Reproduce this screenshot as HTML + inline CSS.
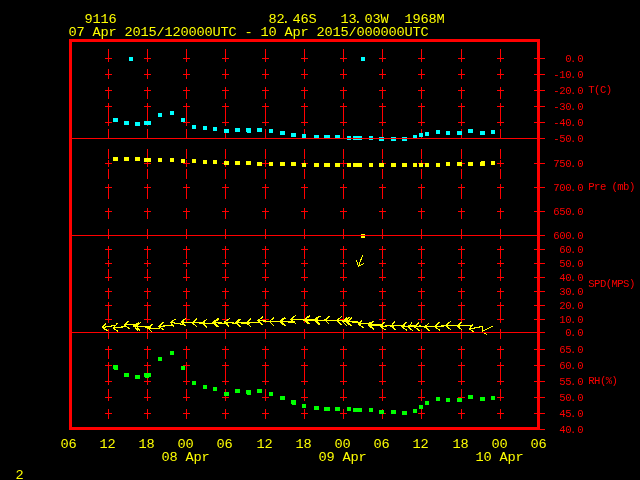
<!DOCTYPE html>
<html><head><meta charset="utf-8"><title>Meteogram 9116</title>
<style>
html,body{margin:0;padding:0;background:#000;overflow:hidden}
svg{display:block}
text{font-family:"Liberation Mono","DejaVu Sans Mono",monospace;white-space:pre}
</style></head><body>
<svg width="640" height="480" viewBox="0 0 640 480">
<rect width="640" height="480" fill="#000"/>
<g shape-rendering="crispEdges">
<rect x="108" y="49" width="1" height="10" fill="#ff0000"/><rect x="108" y="69" width="1" height="10" fill="#ff0000"/><rect x="108" y="89" width="1" height="10" fill="#ff0000"/><rect x="108" y="109" width="1" height="10" fill="#ff0000"/><rect x="108" y="129" width="1" height="10" fill="#ff0000"/><rect x="108" y="149" width="1" height="10" fill="#ff0000"/><rect x="108" y="169" width="1" height="10" fill="#ff0000"/><rect x="108" y="189" width="1" height="10" fill="#ff0000"/><rect x="108" y="209" width="1" height="10" fill="#ff0000"/><rect x="108" y="229" width="1" height="10" fill="#ff0000"/><rect x="108" y="249" width="1" height="10" fill="#ff0000"/><rect x="108" y="269" width="1" height="10" fill="#ff0000"/><rect x="108" y="289" width="1" height="10" fill="#ff0000"/><rect x="108" y="309" width="1" height="10" fill="#ff0000"/><rect x="108" y="329" width="1" height="10" fill="#ff0000"/><rect x="108" y="349" width="1" height="10" fill="#ff0000"/><rect x="108" y="369" width="1" height="10" fill="#ff0000"/><rect x="108" y="389" width="1" height="10" fill="#ff0000"/><rect x="108" y="409" width="1" height="10" fill="#ff0000"/><rect x="105" y="58" width="7" height="1" fill="#ff0000"/><rect x="108" y="55" width="1" height="7" fill="#ff0000"/><rect x="105" y="74" width="7" height="1" fill="#ff0000"/><rect x="108" y="71" width="1" height="7" fill="#ff0000"/><rect x="105" y="90" width="7" height="1" fill="#ff0000"/><rect x="108" y="87" width="1" height="7" fill="#ff0000"/><rect x="105" y="106" width="7" height="1" fill="#ff0000"/><rect x="108" y="103" width="1" height="7" fill="#ff0000"/><rect x="105" y="122" width="7" height="1" fill="#ff0000"/><rect x="108" y="119" width="1" height="7" fill="#ff0000"/><rect x="105" y="163" width="7" height="1" fill="#ff0000"/><rect x="108" y="160" width="1" height="7" fill="#ff0000"/><rect x="105" y="187" width="7" height="1" fill="#ff0000"/><rect x="108" y="184" width="1" height="7" fill="#ff0000"/><rect x="105" y="211" width="7" height="1" fill="#ff0000"/><rect x="108" y="208" width="1" height="7" fill="#ff0000"/><rect x="105" y="249" width="7" height="1" fill="#ff0000"/><rect x="108" y="246" width="1" height="7" fill="#ff0000"/><rect x="105" y="263" width="7" height="1" fill="#ff0000"/><rect x="108" y="260" width="1" height="7" fill="#ff0000"/><rect x="105" y="277" width="7" height="1" fill="#ff0000"/><rect x="108" y="274" width="1" height="7" fill="#ff0000"/><rect x="105" y="291" width="7" height="1" fill="#ff0000"/><rect x="108" y="288" width="1" height="7" fill="#ff0000"/><rect x="105" y="305" width="7" height="1" fill="#ff0000"/><rect x="108" y="302" width="1" height="7" fill="#ff0000"/><rect x="105" y="319" width="7" height="1" fill="#ff0000"/><rect x="108" y="316" width="1" height="7" fill="#ff0000"/><rect x="105" y="349" width="7" height="1" fill="#ff0000"/><rect x="108" y="346" width="1" height="7" fill="#ff0000"/><rect x="105" y="365" width="7" height="1" fill="#ff0000"/><rect x="108" y="362" width="1" height="7" fill="#ff0000"/><rect x="105" y="381" width="7" height="1" fill="#ff0000"/><rect x="108" y="378" width="1" height="7" fill="#ff0000"/><rect x="105" y="397" width="7" height="1" fill="#ff0000"/><rect x="108" y="394" width="1" height="7" fill="#ff0000"/><rect x="105" y="413" width="7" height="1" fill="#ff0000"/><rect x="108" y="410" width="1" height="7" fill="#ff0000"/><rect x="147" y="49" width="1" height="10" fill="#ff0000"/><rect x="147" y="69" width="1" height="10" fill="#ff0000"/><rect x="147" y="89" width="1" height="10" fill="#ff0000"/><rect x="147" y="109" width="1" height="10" fill="#ff0000"/><rect x="147" y="129" width="1" height="10" fill="#ff0000"/><rect x="147" y="149" width="1" height="10" fill="#ff0000"/><rect x="147" y="169" width="1" height="10" fill="#ff0000"/><rect x="147" y="189" width="1" height="10" fill="#ff0000"/><rect x="147" y="209" width="1" height="10" fill="#ff0000"/><rect x="147" y="229" width="1" height="10" fill="#ff0000"/><rect x="147" y="249" width="1" height="10" fill="#ff0000"/><rect x="147" y="269" width="1" height="10" fill="#ff0000"/><rect x="147" y="289" width="1" height="10" fill="#ff0000"/><rect x="147" y="309" width="1" height="10" fill="#ff0000"/><rect x="147" y="329" width="1" height="10" fill="#ff0000"/><rect x="147" y="349" width="1" height="10" fill="#ff0000"/><rect x="147" y="369" width="1" height="10" fill="#ff0000"/><rect x="147" y="389" width="1" height="10" fill="#ff0000"/><rect x="147" y="409" width="1" height="10" fill="#ff0000"/><rect x="144" y="58" width="7" height="1" fill="#ff0000"/><rect x="147" y="55" width="1" height="7" fill="#ff0000"/><rect x="144" y="74" width="7" height="1" fill="#ff0000"/><rect x="147" y="71" width="1" height="7" fill="#ff0000"/><rect x="144" y="90" width="7" height="1" fill="#ff0000"/><rect x="147" y="87" width="1" height="7" fill="#ff0000"/><rect x="144" y="106" width="7" height="1" fill="#ff0000"/><rect x="147" y="103" width="1" height="7" fill="#ff0000"/><rect x="144" y="122" width="7" height="1" fill="#ff0000"/><rect x="147" y="119" width="1" height="7" fill="#ff0000"/><rect x="144" y="163" width="7" height="1" fill="#ff0000"/><rect x="147" y="160" width="1" height="7" fill="#ff0000"/><rect x="144" y="187" width="7" height="1" fill="#ff0000"/><rect x="147" y="184" width="1" height="7" fill="#ff0000"/><rect x="144" y="211" width="7" height="1" fill="#ff0000"/><rect x="147" y="208" width="1" height="7" fill="#ff0000"/><rect x="144" y="249" width="7" height="1" fill="#ff0000"/><rect x="147" y="246" width="1" height="7" fill="#ff0000"/><rect x="144" y="263" width="7" height="1" fill="#ff0000"/><rect x="147" y="260" width="1" height="7" fill="#ff0000"/><rect x="144" y="277" width="7" height="1" fill="#ff0000"/><rect x="147" y="274" width="1" height="7" fill="#ff0000"/><rect x="144" y="291" width="7" height="1" fill="#ff0000"/><rect x="147" y="288" width="1" height="7" fill="#ff0000"/><rect x="144" y="305" width="7" height="1" fill="#ff0000"/><rect x="147" y="302" width="1" height="7" fill="#ff0000"/><rect x="144" y="319" width="7" height="1" fill="#ff0000"/><rect x="147" y="316" width="1" height="7" fill="#ff0000"/><rect x="144" y="349" width="7" height="1" fill="#ff0000"/><rect x="147" y="346" width="1" height="7" fill="#ff0000"/><rect x="144" y="365" width="7" height="1" fill="#ff0000"/><rect x="147" y="362" width="1" height="7" fill="#ff0000"/><rect x="144" y="381" width="7" height="1" fill="#ff0000"/><rect x="147" y="378" width="1" height="7" fill="#ff0000"/><rect x="144" y="397" width="7" height="1" fill="#ff0000"/><rect x="147" y="394" width="1" height="7" fill="#ff0000"/><rect x="144" y="413" width="7" height="1" fill="#ff0000"/><rect x="147" y="410" width="1" height="7" fill="#ff0000"/><rect x="186" y="49" width="1" height="10" fill="#ff0000"/><rect x="186" y="69" width="1" height="10" fill="#ff0000"/><rect x="186" y="89" width="1" height="10" fill="#ff0000"/><rect x="186" y="109" width="1" height="10" fill="#ff0000"/><rect x="186" y="129" width="1" height="10" fill="#ff0000"/><rect x="186" y="149" width="1" height="10" fill="#ff0000"/><rect x="186" y="169" width="1" height="10" fill="#ff0000"/><rect x="186" y="189" width="1" height="10" fill="#ff0000"/><rect x="186" y="209" width="1" height="10" fill="#ff0000"/><rect x="186" y="229" width="1" height="10" fill="#ff0000"/><rect x="186" y="249" width="1" height="10" fill="#ff0000"/><rect x="186" y="269" width="1" height="10" fill="#ff0000"/><rect x="186" y="289" width="1" height="10" fill="#ff0000"/><rect x="186" y="309" width="1" height="10" fill="#ff0000"/><rect x="186" y="329" width="1" height="10" fill="#ff0000"/><rect x="186" y="349" width="1" height="10" fill="#ff0000"/><rect x="186" y="369" width="1" height="10" fill="#ff0000"/><rect x="186" y="389" width="1" height="10" fill="#ff0000"/><rect x="186" y="409" width="1" height="10" fill="#ff0000"/><rect x="183" y="58" width="7" height="1" fill="#ff0000"/><rect x="186" y="55" width="1" height="7" fill="#ff0000"/><rect x="183" y="74" width="7" height="1" fill="#ff0000"/><rect x="186" y="71" width="1" height="7" fill="#ff0000"/><rect x="183" y="90" width="7" height="1" fill="#ff0000"/><rect x="186" y="87" width="1" height="7" fill="#ff0000"/><rect x="183" y="106" width="7" height="1" fill="#ff0000"/><rect x="186" y="103" width="1" height="7" fill="#ff0000"/><rect x="183" y="122" width="7" height="1" fill="#ff0000"/><rect x="186" y="119" width="1" height="7" fill="#ff0000"/><rect x="183" y="163" width="7" height="1" fill="#ff0000"/><rect x="186" y="160" width="1" height="7" fill="#ff0000"/><rect x="183" y="187" width="7" height="1" fill="#ff0000"/><rect x="186" y="184" width="1" height="7" fill="#ff0000"/><rect x="183" y="211" width="7" height="1" fill="#ff0000"/><rect x="186" y="208" width="1" height="7" fill="#ff0000"/><rect x="183" y="249" width="7" height="1" fill="#ff0000"/><rect x="186" y="246" width="1" height="7" fill="#ff0000"/><rect x="183" y="263" width="7" height="1" fill="#ff0000"/><rect x="186" y="260" width="1" height="7" fill="#ff0000"/><rect x="183" y="277" width="7" height="1" fill="#ff0000"/><rect x="186" y="274" width="1" height="7" fill="#ff0000"/><rect x="183" y="291" width="7" height="1" fill="#ff0000"/><rect x="186" y="288" width="1" height="7" fill="#ff0000"/><rect x="183" y="305" width="7" height="1" fill="#ff0000"/><rect x="186" y="302" width="1" height="7" fill="#ff0000"/><rect x="183" y="319" width="7" height="1" fill="#ff0000"/><rect x="186" y="316" width="1" height="7" fill="#ff0000"/><rect x="183" y="349" width="7" height="1" fill="#ff0000"/><rect x="186" y="346" width="1" height="7" fill="#ff0000"/><rect x="183" y="365" width="7" height="1" fill="#ff0000"/><rect x="186" y="362" width="1" height="7" fill="#ff0000"/><rect x="183" y="381" width="7" height="1" fill="#ff0000"/><rect x="186" y="378" width="1" height="7" fill="#ff0000"/><rect x="183" y="397" width="7" height="1" fill="#ff0000"/><rect x="186" y="394" width="1" height="7" fill="#ff0000"/><rect x="183" y="413" width="7" height="1" fill="#ff0000"/><rect x="186" y="410" width="1" height="7" fill="#ff0000"/><rect x="225" y="49" width="1" height="10" fill="#ff0000"/><rect x="225" y="69" width="1" height="10" fill="#ff0000"/><rect x="225" y="89" width="1" height="10" fill="#ff0000"/><rect x="225" y="109" width="1" height="10" fill="#ff0000"/><rect x="225" y="129" width="1" height="10" fill="#ff0000"/><rect x="225" y="149" width="1" height="10" fill="#ff0000"/><rect x="225" y="169" width="1" height="10" fill="#ff0000"/><rect x="225" y="189" width="1" height="10" fill="#ff0000"/><rect x="225" y="209" width="1" height="10" fill="#ff0000"/><rect x="225" y="229" width="1" height="10" fill="#ff0000"/><rect x="225" y="249" width="1" height="10" fill="#ff0000"/><rect x="225" y="269" width="1" height="10" fill="#ff0000"/><rect x="225" y="289" width="1" height="10" fill="#ff0000"/><rect x="225" y="309" width="1" height="10" fill="#ff0000"/><rect x="225" y="329" width="1" height="10" fill="#ff0000"/><rect x="225" y="349" width="1" height="10" fill="#ff0000"/><rect x="225" y="369" width="1" height="10" fill="#ff0000"/><rect x="225" y="389" width="1" height="10" fill="#ff0000"/><rect x="225" y="409" width="1" height="10" fill="#ff0000"/><rect x="222" y="58" width="7" height="1" fill="#ff0000"/><rect x="225" y="55" width="1" height="7" fill="#ff0000"/><rect x="222" y="74" width="7" height="1" fill="#ff0000"/><rect x="225" y="71" width="1" height="7" fill="#ff0000"/><rect x="222" y="90" width="7" height="1" fill="#ff0000"/><rect x="225" y="87" width="1" height="7" fill="#ff0000"/><rect x="222" y="106" width="7" height="1" fill="#ff0000"/><rect x="225" y="103" width="1" height="7" fill="#ff0000"/><rect x="222" y="122" width="7" height="1" fill="#ff0000"/><rect x="225" y="119" width="1" height="7" fill="#ff0000"/><rect x="222" y="163" width="7" height="1" fill="#ff0000"/><rect x="225" y="160" width="1" height="7" fill="#ff0000"/><rect x="222" y="187" width="7" height="1" fill="#ff0000"/><rect x="225" y="184" width="1" height="7" fill="#ff0000"/><rect x="222" y="211" width="7" height="1" fill="#ff0000"/><rect x="225" y="208" width="1" height="7" fill="#ff0000"/><rect x="222" y="249" width="7" height="1" fill="#ff0000"/><rect x="225" y="246" width="1" height="7" fill="#ff0000"/><rect x="222" y="263" width="7" height="1" fill="#ff0000"/><rect x="225" y="260" width="1" height="7" fill="#ff0000"/><rect x="222" y="277" width="7" height="1" fill="#ff0000"/><rect x="225" y="274" width="1" height="7" fill="#ff0000"/><rect x="222" y="291" width="7" height="1" fill="#ff0000"/><rect x="225" y="288" width="1" height="7" fill="#ff0000"/><rect x="222" y="305" width="7" height="1" fill="#ff0000"/><rect x="225" y="302" width="1" height="7" fill="#ff0000"/><rect x="222" y="319" width="7" height="1" fill="#ff0000"/><rect x="225" y="316" width="1" height="7" fill="#ff0000"/><rect x="222" y="349" width="7" height="1" fill="#ff0000"/><rect x="225" y="346" width="1" height="7" fill="#ff0000"/><rect x="222" y="365" width="7" height="1" fill="#ff0000"/><rect x="225" y="362" width="1" height="7" fill="#ff0000"/><rect x="222" y="381" width="7" height="1" fill="#ff0000"/><rect x="225" y="378" width="1" height="7" fill="#ff0000"/><rect x="222" y="397" width="7" height="1" fill="#ff0000"/><rect x="225" y="394" width="1" height="7" fill="#ff0000"/><rect x="222" y="413" width="7" height="1" fill="#ff0000"/><rect x="225" y="410" width="1" height="7" fill="#ff0000"/><rect x="265" y="49" width="1" height="10" fill="#ff0000"/><rect x="265" y="69" width="1" height="10" fill="#ff0000"/><rect x="265" y="89" width="1" height="10" fill="#ff0000"/><rect x="265" y="109" width="1" height="10" fill="#ff0000"/><rect x="265" y="129" width="1" height="10" fill="#ff0000"/><rect x="265" y="149" width="1" height="10" fill="#ff0000"/><rect x="265" y="169" width="1" height="10" fill="#ff0000"/><rect x="265" y="189" width="1" height="10" fill="#ff0000"/><rect x="265" y="209" width="1" height="10" fill="#ff0000"/><rect x="265" y="229" width="1" height="10" fill="#ff0000"/><rect x="265" y="249" width="1" height="10" fill="#ff0000"/><rect x="265" y="269" width="1" height="10" fill="#ff0000"/><rect x="265" y="289" width="1" height="10" fill="#ff0000"/><rect x="265" y="309" width="1" height="10" fill="#ff0000"/><rect x="265" y="329" width="1" height="10" fill="#ff0000"/><rect x="265" y="349" width="1" height="10" fill="#ff0000"/><rect x="265" y="369" width="1" height="10" fill="#ff0000"/><rect x="265" y="389" width="1" height="10" fill="#ff0000"/><rect x="265" y="409" width="1" height="10" fill="#ff0000"/><rect x="262" y="58" width="7" height="1" fill="#ff0000"/><rect x="265" y="55" width="1" height="7" fill="#ff0000"/><rect x="262" y="74" width="7" height="1" fill="#ff0000"/><rect x="265" y="71" width="1" height="7" fill="#ff0000"/><rect x="262" y="90" width="7" height="1" fill="#ff0000"/><rect x="265" y="87" width="1" height="7" fill="#ff0000"/><rect x="262" y="106" width="7" height="1" fill="#ff0000"/><rect x="265" y="103" width="1" height="7" fill="#ff0000"/><rect x="262" y="122" width="7" height="1" fill="#ff0000"/><rect x="265" y="119" width="1" height="7" fill="#ff0000"/><rect x="262" y="163" width="7" height="1" fill="#ff0000"/><rect x="265" y="160" width="1" height="7" fill="#ff0000"/><rect x="262" y="187" width="7" height="1" fill="#ff0000"/><rect x="265" y="184" width="1" height="7" fill="#ff0000"/><rect x="262" y="211" width="7" height="1" fill="#ff0000"/><rect x="265" y="208" width="1" height="7" fill="#ff0000"/><rect x="262" y="249" width="7" height="1" fill="#ff0000"/><rect x="265" y="246" width="1" height="7" fill="#ff0000"/><rect x="262" y="263" width="7" height="1" fill="#ff0000"/><rect x="265" y="260" width="1" height="7" fill="#ff0000"/><rect x="262" y="277" width="7" height="1" fill="#ff0000"/><rect x="265" y="274" width="1" height="7" fill="#ff0000"/><rect x="262" y="291" width="7" height="1" fill="#ff0000"/><rect x="265" y="288" width="1" height="7" fill="#ff0000"/><rect x="262" y="305" width="7" height="1" fill="#ff0000"/><rect x="265" y="302" width="1" height="7" fill="#ff0000"/><rect x="262" y="319" width="7" height="1" fill="#ff0000"/><rect x="265" y="316" width="1" height="7" fill="#ff0000"/><rect x="262" y="349" width="7" height="1" fill="#ff0000"/><rect x="265" y="346" width="1" height="7" fill="#ff0000"/><rect x="262" y="365" width="7" height="1" fill="#ff0000"/><rect x="265" y="362" width="1" height="7" fill="#ff0000"/><rect x="262" y="381" width="7" height="1" fill="#ff0000"/><rect x="265" y="378" width="1" height="7" fill="#ff0000"/><rect x="262" y="397" width="7" height="1" fill="#ff0000"/><rect x="265" y="394" width="1" height="7" fill="#ff0000"/><rect x="262" y="413" width="7" height="1" fill="#ff0000"/><rect x="265" y="410" width="1" height="7" fill="#ff0000"/><rect x="304" y="49" width="1" height="10" fill="#ff0000"/><rect x="304" y="69" width="1" height="10" fill="#ff0000"/><rect x="304" y="89" width="1" height="10" fill="#ff0000"/><rect x="304" y="109" width="1" height="10" fill="#ff0000"/><rect x="304" y="129" width="1" height="10" fill="#ff0000"/><rect x="304" y="149" width="1" height="10" fill="#ff0000"/><rect x="304" y="169" width="1" height="10" fill="#ff0000"/><rect x="304" y="189" width="1" height="10" fill="#ff0000"/><rect x="304" y="209" width="1" height="10" fill="#ff0000"/><rect x="304" y="229" width="1" height="10" fill="#ff0000"/><rect x="304" y="249" width="1" height="10" fill="#ff0000"/><rect x="304" y="269" width="1" height="10" fill="#ff0000"/><rect x="304" y="289" width="1" height="10" fill="#ff0000"/><rect x="304" y="309" width="1" height="10" fill="#ff0000"/><rect x="304" y="329" width="1" height="10" fill="#ff0000"/><rect x="304" y="349" width="1" height="10" fill="#ff0000"/><rect x="304" y="369" width="1" height="10" fill="#ff0000"/><rect x="304" y="389" width="1" height="10" fill="#ff0000"/><rect x="304" y="409" width="1" height="10" fill="#ff0000"/><rect x="301" y="58" width="7" height="1" fill="#ff0000"/><rect x="304" y="55" width="1" height="7" fill="#ff0000"/><rect x="301" y="74" width="7" height="1" fill="#ff0000"/><rect x="304" y="71" width="1" height="7" fill="#ff0000"/><rect x="301" y="90" width="7" height="1" fill="#ff0000"/><rect x="304" y="87" width="1" height="7" fill="#ff0000"/><rect x="301" y="106" width="7" height="1" fill="#ff0000"/><rect x="304" y="103" width="1" height="7" fill="#ff0000"/><rect x="301" y="122" width="7" height="1" fill="#ff0000"/><rect x="304" y="119" width="1" height="7" fill="#ff0000"/><rect x="301" y="163" width="7" height="1" fill="#ff0000"/><rect x="304" y="160" width="1" height="7" fill="#ff0000"/><rect x="301" y="187" width="7" height="1" fill="#ff0000"/><rect x="304" y="184" width="1" height="7" fill="#ff0000"/><rect x="301" y="211" width="7" height="1" fill="#ff0000"/><rect x="304" y="208" width="1" height="7" fill="#ff0000"/><rect x="301" y="249" width="7" height="1" fill="#ff0000"/><rect x="304" y="246" width="1" height="7" fill="#ff0000"/><rect x="301" y="263" width="7" height="1" fill="#ff0000"/><rect x="304" y="260" width="1" height="7" fill="#ff0000"/><rect x="301" y="277" width="7" height="1" fill="#ff0000"/><rect x="304" y="274" width="1" height="7" fill="#ff0000"/><rect x="301" y="291" width="7" height="1" fill="#ff0000"/><rect x="304" y="288" width="1" height="7" fill="#ff0000"/><rect x="301" y="305" width="7" height="1" fill="#ff0000"/><rect x="304" y="302" width="1" height="7" fill="#ff0000"/><rect x="301" y="319" width="7" height="1" fill="#ff0000"/><rect x="304" y="316" width="1" height="7" fill="#ff0000"/><rect x="301" y="349" width="7" height="1" fill="#ff0000"/><rect x="304" y="346" width="1" height="7" fill="#ff0000"/><rect x="301" y="365" width="7" height="1" fill="#ff0000"/><rect x="304" y="362" width="1" height="7" fill="#ff0000"/><rect x="301" y="381" width="7" height="1" fill="#ff0000"/><rect x="304" y="378" width="1" height="7" fill="#ff0000"/><rect x="301" y="397" width="7" height="1" fill="#ff0000"/><rect x="304" y="394" width="1" height="7" fill="#ff0000"/><rect x="301" y="413" width="7" height="1" fill="#ff0000"/><rect x="304" y="410" width="1" height="7" fill="#ff0000"/><rect x="343" y="49" width="1" height="10" fill="#ff0000"/><rect x="343" y="69" width="1" height="10" fill="#ff0000"/><rect x="343" y="89" width="1" height="10" fill="#ff0000"/><rect x="343" y="109" width="1" height="10" fill="#ff0000"/><rect x="343" y="129" width="1" height="10" fill="#ff0000"/><rect x="343" y="149" width="1" height="10" fill="#ff0000"/><rect x="343" y="169" width="1" height="10" fill="#ff0000"/><rect x="343" y="189" width="1" height="10" fill="#ff0000"/><rect x="343" y="209" width="1" height="10" fill="#ff0000"/><rect x="343" y="229" width="1" height="10" fill="#ff0000"/><rect x="343" y="249" width="1" height="10" fill="#ff0000"/><rect x="343" y="269" width="1" height="10" fill="#ff0000"/><rect x="343" y="289" width="1" height="10" fill="#ff0000"/><rect x="343" y="309" width="1" height="10" fill="#ff0000"/><rect x="343" y="329" width="1" height="10" fill="#ff0000"/><rect x="343" y="349" width="1" height="10" fill="#ff0000"/><rect x="343" y="369" width="1" height="10" fill="#ff0000"/><rect x="343" y="389" width="1" height="10" fill="#ff0000"/><rect x="343" y="409" width="1" height="10" fill="#ff0000"/><rect x="340" y="58" width="7" height="1" fill="#ff0000"/><rect x="343" y="55" width="1" height="7" fill="#ff0000"/><rect x="340" y="74" width="7" height="1" fill="#ff0000"/><rect x="343" y="71" width="1" height="7" fill="#ff0000"/><rect x="340" y="90" width="7" height="1" fill="#ff0000"/><rect x="343" y="87" width="1" height="7" fill="#ff0000"/><rect x="340" y="106" width="7" height="1" fill="#ff0000"/><rect x="343" y="103" width="1" height="7" fill="#ff0000"/><rect x="340" y="122" width="7" height="1" fill="#ff0000"/><rect x="343" y="119" width="1" height="7" fill="#ff0000"/><rect x="340" y="163" width="7" height="1" fill="#ff0000"/><rect x="343" y="160" width="1" height="7" fill="#ff0000"/><rect x="340" y="187" width="7" height="1" fill="#ff0000"/><rect x="343" y="184" width="1" height="7" fill="#ff0000"/><rect x="340" y="211" width="7" height="1" fill="#ff0000"/><rect x="343" y="208" width="1" height="7" fill="#ff0000"/><rect x="340" y="249" width="7" height="1" fill="#ff0000"/><rect x="343" y="246" width="1" height="7" fill="#ff0000"/><rect x="340" y="263" width="7" height="1" fill="#ff0000"/><rect x="343" y="260" width="1" height="7" fill="#ff0000"/><rect x="340" y="277" width="7" height="1" fill="#ff0000"/><rect x="343" y="274" width="1" height="7" fill="#ff0000"/><rect x="340" y="291" width="7" height="1" fill="#ff0000"/><rect x="343" y="288" width="1" height="7" fill="#ff0000"/><rect x="340" y="305" width="7" height="1" fill="#ff0000"/><rect x="343" y="302" width="1" height="7" fill="#ff0000"/><rect x="340" y="319" width="7" height="1" fill="#ff0000"/><rect x="343" y="316" width="1" height="7" fill="#ff0000"/><rect x="340" y="349" width="7" height="1" fill="#ff0000"/><rect x="343" y="346" width="1" height="7" fill="#ff0000"/><rect x="340" y="365" width="7" height="1" fill="#ff0000"/><rect x="343" y="362" width="1" height="7" fill="#ff0000"/><rect x="340" y="381" width="7" height="1" fill="#ff0000"/><rect x="343" y="378" width="1" height="7" fill="#ff0000"/><rect x="340" y="397" width="7" height="1" fill="#ff0000"/><rect x="343" y="394" width="1" height="7" fill="#ff0000"/><rect x="340" y="413" width="7" height="1" fill="#ff0000"/><rect x="343" y="410" width="1" height="7" fill="#ff0000"/><rect x="382" y="49" width="1" height="10" fill="#ff0000"/><rect x="382" y="69" width="1" height="10" fill="#ff0000"/><rect x="382" y="89" width="1" height="10" fill="#ff0000"/><rect x="382" y="109" width="1" height="10" fill="#ff0000"/><rect x="382" y="129" width="1" height="10" fill="#ff0000"/><rect x="382" y="149" width="1" height="10" fill="#ff0000"/><rect x="382" y="169" width="1" height="10" fill="#ff0000"/><rect x="382" y="189" width="1" height="10" fill="#ff0000"/><rect x="382" y="209" width="1" height="10" fill="#ff0000"/><rect x="382" y="229" width="1" height="10" fill="#ff0000"/><rect x="382" y="249" width="1" height="10" fill="#ff0000"/><rect x="382" y="269" width="1" height="10" fill="#ff0000"/><rect x="382" y="289" width="1" height="10" fill="#ff0000"/><rect x="382" y="309" width="1" height="10" fill="#ff0000"/><rect x="382" y="329" width="1" height="10" fill="#ff0000"/><rect x="382" y="349" width="1" height="10" fill="#ff0000"/><rect x="382" y="369" width="1" height="10" fill="#ff0000"/><rect x="382" y="389" width="1" height="10" fill="#ff0000"/><rect x="382" y="409" width="1" height="10" fill="#ff0000"/><rect x="379" y="58" width="7" height="1" fill="#ff0000"/><rect x="382" y="55" width="1" height="7" fill="#ff0000"/><rect x="379" y="74" width="7" height="1" fill="#ff0000"/><rect x="382" y="71" width="1" height="7" fill="#ff0000"/><rect x="379" y="90" width="7" height="1" fill="#ff0000"/><rect x="382" y="87" width="1" height="7" fill="#ff0000"/><rect x="379" y="106" width="7" height="1" fill="#ff0000"/><rect x="382" y="103" width="1" height="7" fill="#ff0000"/><rect x="379" y="122" width="7" height="1" fill="#ff0000"/><rect x="382" y="119" width="1" height="7" fill="#ff0000"/><rect x="379" y="163" width="7" height="1" fill="#ff0000"/><rect x="382" y="160" width="1" height="7" fill="#ff0000"/><rect x="379" y="187" width="7" height="1" fill="#ff0000"/><rect x="382" y="184" width="1" height="7" fill="#ff0000"/><rect x="379" y="211" width="7" height="1" fill="#ff0000"/><rect x="382" y="208" width="1" height="7" fill="#ff0000"/><rect x="379" y="249" width="7" height="1" fill="#ff0000"/><rect x="382" y="246" width="1" height="7" fill="#ff0000"/><rect x="379" y="263" width="7" height="1" fill="#ff0000"/><rect x="382" y="260" width="1" height="7" fill="#ff0000"/><rect x="379" y="277" width="7" height="1" fill="#ff0000"/><rect x="382" y="274" width="1" height="7" fill="#ff0000"/><rect x="379" y="291" width="7" height="1" fill="#ff0000"/><rect x="382" y="288" width="1" height="7" fill="#ff0000"/><rect x="379" y="305" width="7" height="1" fill="#ff0000"/><rect x="382" y="302" width="1" height="7" fill="#ff0000"/><rect x="379" y="319" width="7" height="1" fill="#ff0000"/><rect x="382" y="316" width="1" height="7" fill="#ff0000"/><rect x="379" y="349" width="7" height="1" fill="#ff0000"/><rect x="382" y="346" width="1" height="7" fill="#ff0000"/><rect x="379" y="365" width="7" height="1" fill="#ff0000"/><rect x="382" y="362" width="1" height="7" fill="#ff0000"/><rect x="379" y="381" width="7" height="1" fill="#ff0000"/><rect x="382" y="378" width="1" height="7" fill="#ff0000"/><rect x="379" y="397" width="7" height="1" fill="#ff0000"/><rect x="382" y="394" width="1" height="7" fill="#ff0000"/><rect x="379" y="413" width="7" height="1" fill="#ff0000"/><rect x="382" y="410" width="1" height="7" fill="#ff0000"/><rect x="421" y="49" width="1" height="10" fill="#ff0000"/><rect x="421" y="69" width="1" height="10" fill="#ff0000"/><rect x="421" y="89" width="1" height="10" fill="#ff0000"/><rect x="421" y="109" width="1" height="10" fill="#ff0000"/><rect x="421" y="129" width="1" height="10" fill="#ff0000"/><rect x="421" y="149" width="1" height="10" fill="#ff0000"/><rect x="421" y="169" width="1" height="10" fill="#ff0000"/><rect x="421" y="189" width="1" height="10" fill="#ff0000"/><rect x="421" y="209" width="1" height="10" fill="#ff0000"/><rect x="421" y="229" width="1" height="10" fill="#ff0000"/><rect x="421" y="249" width="1" height="10" fill="#ff0000"/><rect x="421" y="269" width="1" height="10" fill="#ff0000"/><rect x="421" y="289" width="1" height="10" fill="#ff0000"/><rect x="421" y="309" width="1" height="10" fill="#ff0000"/><rect x="421" y="329" width="1" height="10" fill="#ff0000"/><rect x="421" y="349" width="1" height="10" fill="#ff0000"/><rect x="421" y="369" width="1" height="10" fill="#ff0000"/><rect x="421" y="389" width="1" height="10" fill="#ff0000"/><rect x="421" y="409" width="1" height="10" fill="#ff0000"/><rect x="418" y="58" width="7" height="1" fill="#ff0000"/><rect x="421" y="55" width="1" height="7" fill="#ff0000"/><rect x="418" y="74" width="7" height="1" fill="#ff0000"/><rect x="421" y="71" width="1" height="7" fill="#ff0000"/><rect x="418" y="90" width="7" height="1" fill="#ff0000"/><rect x="421" y="87" width="1" height="7" fill="#ff0000"/><rect x="418" y="106" width="7" height="1" fill="#ff0000"/><rect x="421" y="103" width="1" height="7" fill="#ff0000"/><rect x="418" y="122" width="7" height="1" fill="#ff0000"/><rect x="421" y="119" width="1" height="7" fill="#ff0000"/><rect x="418" y="163" width="7" height="1" fill="#ff0000"/><rect x="421" y="160" width="1" height="7" fill="#ff0000"/><rect x="418" y="187" width="7" height="1" fill="#ff0000"/><rect x="421" y="184" width="1" height="7" fill="#ff0000"/><rect x="418" y="211" width="7" height="1" fill="#ff0000"/><rect x="421" y="208" width="1" height="7" fill="#ff0000"/><rect x="418" y="249" width="7" height="1" fill="#ff0000"/><rect x="421" y="246" width="1" height="7" fill="#ff0000"/><rect x="418" y="263" width="7" height="1" fill="#ff0000"/><rect x="421" y="260" width="1" height="7" fill="#ff0000"/><rect x="418" y="277" width="7" height="1" fill="#ff0000"/><rect x="421" y="274" width="1" height="7" fill="#ff0000"/><rect x="418" y="291" width="7" height="1" fill="#ff0000"/><rect x="421" y="288" width="1" height="7" fill="#ff0000"/><rect x="418" y="305" width="7" height="1" fill="#ff0000"/><rect x="421" y="302" width="1" height="7" fill="#ff0000"/><rect x="418" y="319" width="7" height="1" fill="#ff0000"/><rect x="421" y="316" width="1" height="7" fill="#ff0000"/><rect x="418" y="349" width="7" height="1" fill="#ff0000"/><rect x="421" y="346" width="1" height="7" fill="#ff0000"/><rect x="418" y="365" width="7" height="1" fill="#ff0000"/><rect x="421" y="362" width="1" height="7" fill="#ff0000"/><rect x="418" y="381" width="7" height="1" fill="#ff0000"/><rect x="421" y="378" width="1" height="7" fill="#ff0000"/><rect x="418" y="397" width="7" height="1" fill="#ff0000"/><rect x="421" y="394" width="1" height="7" fill="#ff0000"/><rect x="418" y="413" width="7" height="1" fill="#ff0000"/><rect x="421" y="410" width="1" height="7" fill="#ff0000"/><rect x="461" y="49" width="1" height="10" fill="#ff0000"/><rect x="461" y="69" width="1" height="10" fill="#ff0000"/><rect x="461" y="89" width="1" height="10" fill="#ff0000"/><rect x="461" y="109" width="1" height="10" fill="#ff0000"/><rect x="461" y="129" width="1" height="10" fill="#ff0000"/><rect x="461" y="149" width="1" height="10" fill="#ff0000"/><rect x="461" y="169" width="1" height="10" fill="#ff0000"/><rect x="461" y="189" width="1" height="10" fill="#ff0000"/><rect x="461" y="209" width="1" height="10" fill="#ff0000"/><rect x="461" y="229" width="1" height="10" fill="#ff0000"/><rect x="461" y="249" width="1" height="10" fill="#ff0000"/><rect x="461" y="269" width="1" height="10" fill="#ff0000"/><rect x="461" y="289" width="1" height="10" fill="#ff0000"/><rect x="461" y="309" width="1" height="10" fill="#ff0000"/><rect x="461" y="329" width="1" height="10" fill="#ff0000"/><rect x="461" y="349" width="1" height="10" fill="#ff0000"/><rect x="461" y="369" width="1" height="10" fill="#ff0000"/><rect x="461" y="389" width="1" height="10" fill="#ff0000"/><rect x="461" y="409" width="1" height="10" fill="#ff0000"/><rect x="458" y="58" width="7" height="1" fill="#ff0000"/><rect x="461" y="55" width="1" height="7" fill="#ff0000"/><rect x="458" y="74" width="7" height="1" fill="#ff0000"/><rect x="461" y="71" width="1" height="7" fill="#ff0000"/><rect x="458" y="90" width="7" height="1" fill="#ff0000"/><rect x="461" y="87" width="1" height="7" fill="#ff0000"/><rect x="458" y="106" width="7" height="1" fill="#ff0000"/><rect x="461" y="103" width="1" height="7" fill="#ff0000"/><rect x="458" y="122" width="7" height="1" fill="#ff0000"/><rect x="461" y="119" width="1" height="7" fill="#ff0000"/><rect x="458" y="163" width="7" height="1" fill="#ff0000"/><rect x="461" y="160" width="1" height="7" fill="#ff0000"/><rect x="458" y="187" width="7" height="1" fill="#ff0000"/><rect x="461" y="184" width="1" height="7" fill="#ff0000"/><rect x="458" y="211" width="7" height="1" fill="#ff0000"/><rect x="461" y="208" width="1" height="7" fill="#ff0000"/><rect x="458" y="249" width="7" height="1" fill="#ff0000"/><rect x="461" y="246" width="1" height="7" fill="#ff0000"/><rect x="458" y="263" width="7" height="1" fill="#ff0000"/><rect x="461" y="260" width="1" height="7" fill="#ff0000"/><rect x="458" y="277" width="7" height="1" fill="#ff0000"/><rect x="461" y="274" width="1" height="7" fill="#ff0000"/><rect x="458" y="291" width="7" height="1" fill="#ff0000"/><rect x="461" y="288" width="1" height="7" fill="#ff0000"/><rect x="458" y="305" width="7" height="1" fill="#ff0000"/><rect x="461" y="302" width="1" height="7" fill="#ff0000"/><rect x="458" y="319" width="7" height="1" fill="#ff0000"/><rect x="461" y="316" width="1" height="7" fill="#ff0000"/><rect x="458" y="349" width="7" height="1" fill="#ff0000"/><rect x="461" y="346" width="1" height="7" fill="#ff0000"/><rect x="458" y="365" width="7" height="1" fill="#ff0000"/><rect x="461" y="362" width="1" height="7" fill="#ff0000"/><rect x="458" y="381" width="7" height="1" fill="#ff0000"/><rect x="461" y="378" width="1" height="7" fill="#ff0000"/><rect x="458" y="397" width="7" height="1" fill="#ff0000"/><rect x="461" y="394" width="1" height="7" fill="#ff0000"/><rect x="458" y="413" width="7" height="1" fill="#ff0000"/><rect x="461" y="410" width="1" height="7" fill="#ff0000"/><rect x="500" y="49" width="1" height="10" fill="#ff0000"/><rect x="500" y="69" width="1" height="10" fill="#ff0000"/><rect x="500" y="89" width="1" height="10" fill="#ff0000"/><rect x="500" y="109" width="1" height="10" fill="#ff0000"/><rect x="500" y="129" width="1" height="10" fill="#ff0000"/><rect x="500" y="149" width="1" height="10" fill="#ff0000"/><rect x="500" y="169" width="1" height="10" fill="#ff0000"/><rect x="500" y="189" width="1" height="10" fill="#ff0000"/><rect x="500" y="209" width="1" height="10" fill="#ff0000"/><rect x="500" y="229" width="1" height="10" fill="#ff0000"/><rect x="500" y="249" width="1" height="10" fill="#ff0000"/><rect x="500" y="269" width="1" height="10" fill="#ff0000"/><rect x="500" y="289" width="1" height="10" fill="#ff0000"/><rect x="500" y="309" width="1" height="10" fill="#ff0000"/><rect x="500" y="329" width="1" height="10" fill="#ff0000"/><rect x="500" y="349" width="1" height="10" fill="#ff0000"/><rect x="500" y="369" width="1" height="10" fill="#ff0000"/><rect x="500" y="389" width="1" height="10" fill="#ff0000"/><rect x="500" y="409" width="1" height="10" fill="#ff0000"/><rect x="497" y="58" width="7" height="1" fill="#ff0000"/><rect x="500" y="55" width="1" height="7" fill="#ff0000"/><rect x="497" y="74" width="7" height="1" fill="#ff0000"/><rect x="500" y="71" width="1" height="7" fill="#ff0000"/><rect x="497" y="90" width="7" height="1" fill="#ff0000"/><rect x="500" y="87" width="1" height="7" fill="#ff0000"/><rect x="497" y="106" width="7" height="1" fill="#ff0000"/><rect x="500" y="103" width="1" height="7" fill="#ff0000"/><rect x="497" y="122" width="7" height="1" fill="#ff0000"/><rect x="500" y="119" width="1" height="7" fill="#ff0000"/><rect x="497" y="163" width="7" height="1" fill="#ff0000"/><rect x="500" y="160" width="1" height="7" fill="#ff0000"/><rect x="497" y="187" width="7" height="1" fill="#ff0000"/><rect x="500" y="184" width="1" height="7" fill="#ff0000"/><rect x="497" y="211" width="7" height="1" fill="#ff0000"/><rect x="500" y="208" width="1" height="7" fill="#ff0000"/><rect x="497" y="249" width="7" height="1" fill="#ff0000"/><rect x="500" y="246" width="1" height="7" fill="#ff0000"/><rect x="497" y="263" width="7" height="1" fill="#ff0000"/><rect x="500" y="260" width="1" height="7" fill="#ff0000"/><rect x="497" y="277" width="7" height="1" fill="#ff0000"/><rect x="500" y="274" width="1" height="7" fill="#ff0000"/><rect x="497" y="291" width="7" height="1" fill="#ff0000"/><rect x="500" y="288" width="1" height="7" fill="#ff0000"/><rect x="497" y="305" width="7" height="1" fill="#ff0000"/><rect x="500" y="302" width="1" height="7" fill="#ff0000"/><rect x="497" y="319" width="7" height="1" fill="#ff0000"/><rect x="500" y="316" width="1" height="7" fill="#ff0000"/><rect x="497" y="349" width="7" height="1" fill="#ff0000"/><rect x="500" y="346" width="1" height="7" fill="#ff0000"/><rect x="497" y="365" width="7" height="1" fill="#ff0000"/><rect x="500" y="362" width="1" height="7" fill="#ff0000"/><rect x="497" y="381" width="7" height="1" fill="#ff0000"/><rect x="500" y="378" width="1" height="7" fill="#ff0000"/><rect x="497" y="397" width="7" height="1" fill="#ff0000"/><rect x="500" y="394" width="1" height="7" fill="#ff0000"/><rect x="497" y="413" width="7" height="1" fill="#ff0000"/><rect x="500" y="410" width="1" height="7" fill="#ff0000"/>
</g>
<g shape-rendering="crispEdges">
<rect x="113" y="118" width="5" height="4" fill="#00ffff"/><rect x="124" y="121" width="5" height="4" fill="#00ffff"/><rect x="135" y="122" width="5" height="4" fill="#00ffff"/><rect x="144" y="121" width="7" height="4" fill="#00ffff"/><rect x="158" y="113" width="4" height="4" fill="#00ffff"/><rect x="170" y="111" width="4" height="4" fill="#00ffff"/><rect x="181" y="118" width="4" height="4" fill="#00ffff"/><rect x="192" y="125" width="4" height="4" fill="#00ffff"/><rect x="203" y="126" width="4" height="4" fill="#00ffff"/><rect x="213" y="127" width="4" height="4" fill="#00ffff"/><rect x="224" y="129" width="5" height="4" fill="#00ffff"/><rect x="235" y="128" width="5" height="4" fill="#00ffff"/><rect x="246" y="128" width="5" height="4" fill="#00ffff"/><rect x="257" y="128" width="5" height="4" fill="#00ffff"/><rect x="269" y="129" width="4" height="4" fill="#00ffff"/><rect x="280" y="131" width="5" height="4" fill="#00ffff"/><rect x="291" y="133" width="5" height="4" fill="#00ffff"/><rect x="302" y="134" width="4" height="4" fill="#00ffff"/><rect x="314" y="135" width="5" height="4" fill="#00ffff"/><rect x="324" y="135" width="6" height="4" fill="#00ffff"/><rect x="335" y="135" width="5" height="4" fill="#00ffff"/><rect x="347" y="136" width="4" height="4" fill="#00ffff"/><rect x="353" y="136" width="9" height="4" fill="#00ffff"/><rect x="369" y="136" width="4" height="4" fill="#00ffff"/><rect x="379" y="137" width="5" height="4" fill="#00ffff"/><rect x="391" y="137" width="5" height="4" fill="#00ffff"/><rect x="402" y="137" width="5" height="4" fill="#00ffff"/><rect x="413" y="135" width="4" height="4" fill="#00ffff"/><rect x="419" y="133" width="4" height="4" fill="#00ffff"/><rect x="425" y="132" width="4" height="4" fill="#00ffff"/><rect x="436" y="130" width="4" height="4" fill="#00ffff"/><rect x="446" y="131" width="4" height="4" fill="#00ffff"/><rect x="457" y="131" width="5" height="4" fill="#00ffff"/><rect x="468" y="129" width="5" height="4" fill="#00ffff"/><rect x="480" y="131" width="5" height="4" fill="#00ffff"/><rect x="491" y="130" width="4" height="4" fill="#00ffff"/><rect x="129" y="57" width="4" height="4" fill="#00ffff"/><rect x="361" y="57" width="4" height="4" fill="#00ffff"/><rect x="247" y="129" width="4" height="4" fill="#00ffff"/><rect x="113" y="157" width="5" height="4" fill="#ffff00"/><rect x="124" y="157" width="5" height="4" fill="#ffff00"/><rect x="135" y="157" width="5" height="4" fill="#ffff00"/><rect x="144" y="158" width="7" height="4" fill="#ffff00"/><rect x="158" y="158" width="4" height="4" fill="#ffff00"/><rect x="170" y="158" width="4" height="4" fill="#ffff00"/><rect x="181" y="159" width="4" height="4" fill="#ffff00"/><rect x="192" y="159" width="4" height="4" fill="#ffff00"/><rect x="203" y="160" width="4" height="4" fill="#ffff00"/><rect x="213" y="160" width="4" height="4" fill="#ffff00"/><rect x="224" y="161" width="5" height="4" fill="#ffff00"/><rect x="235" y="161" width="5" height="4" fill="#ffff00"/><rect x="246" y="161" width="5" height="4" fill="#ffff00"/><rect x="257" y="162" width="5" height="4" fill="#ffff00"/><rect x="269" y="162" width="4" height="4" fill="#ffff00"/><rect x="280" y="162" width="5" height="4" fill="#ffff00"/><rect x="291" y="162" width="5" height="4" fill="#ffff00"/><rect x="302" y="163" width="4" height="4" fill="#ffff00"/><rect x="314" y="163" width="5" height="4" fill="#ffff00"/><rect x="324" y="163" width="6" height="4" fill="#ffff00"/><rect x="335" y="163" width="5" height="4" fill="#ffff00"/><rect x="347" y="163" width="4" height="4" fill="#ffff00"/><rect x="353" y="163" width="9" height="4" fill="#ffff00"/><rect x="369" y="163" width="4" height="4" fill="#ffff00"/><rect x="379" y="163" width="5" height="4" fill="#ffff00"/><rect x="391" y="163" width="5" height="4" fill="#ffff00"/><rect x="402" y="163" width="5" height="4" fill="#ffff00"/><rect x="413" y="163" width="4" height="4" fill="#ffff00"/><rect x="419" y="163" width="4" height="4" fill="#ffff00"/><rect x="425" y="163" width="4" height="4" fill="#ffff00"/><rect x="436" y="163" width="4" height="4" fill="#ffff00"/><rect x="446" y="162" width="4" height="4" fill="#ffff00"/><rect x="457" y="162" width="5" height="4" fill="#ffff00"/><rect x="468" y="162" width="5" height="4" fill="#ffff00"/><rect x="480" y="162" width="5" height="4" fill="#ffff00"/><rect x="491" y="161" width="4" height="4" fill="#ffff00"/><rect x="361" y="234" width="4" height="4" fill="#ffff00"/><rect x="481" y="161" width="4" height="4" fill="#ffff00"/><rect x="113" y="365" width="5" height="4" fill="#00ff00"/><rect x="124" y="373" width="5" height="4" fill="#00ff00"/><rect x="135" y="375" width="5" height="4" fill="#00ff00"/><rect x="144" y="373" width="7" height="4" fill="#00ff00"/><rect x="158" y="357" width="4" height="4" fill="#00ff00"/><rect x="170" y="351" width="4" height="4" fill="#00ff00"/><rect x="181" y="366" width="4" height="4" fill="#00ff00"/><rect x="192" y="381" width="4" height="4" fill="#00ff00"/><rect x="203" y="385" width="4" height="4" fill="#00ff00"/><rect x="213" y="387" width="4" height="4" fill="#00ff00"/><rect x="224" y="392" width="5" height="4" fill="#00ff00"/><rect x="235" y="389" width="5" height="4" fill="#00ff00"/><rect x="246" y="390" width="5" height="4" fill="#00ff00"/><rect x="257" y="389" width="5" height="4" fill="#00ff00"/><rect x="269" y="392" width="4" height="4" fill="#00ff00"/><rect x="280" y="396" width="5" height="4" fill="#00ff00"/><rect x="291" y="400" width="5" height="4" fill="#00ff00"/><rect x="302" y="404" width="4" height="4" fill="#00ff00"/><rect x="314" y="406" width="5" height="4" fill="#00ff00"/><rect x="324" y="407" width="6" height="4" fill="#00ff00"/><rect x="335" y="407" width="5" height="4" fill="#00ff00"/><rect x="347" y="407" width="4" height="4" fill="#00ff00"/><rect x="353" y="408" width="9" height="4" fill="#00ff00"/><rect x="369" y="408" width="4" height="4" fill="#00ff00"/><rect x="379" y="410" width="5" height="4" fill="#00ff00"/><rect x="391" y="410" width="5" height="4" fill="#00ff00"/><rect x="402" y="411" width="5" height="4" fill="#00ff00"/><rect x="413" y="409" width="4" height="4" fill="#00ff00"/><rect x="419" y="405" width="4" height="4" fill="#00ff00"/><rect x="425" y="401" width="4" height="4" fill="#00ff00"/><rect x="436" y="397" width="4" height="4" fill="#00ff00"/><rect x="446" y="398" width="4" height="4" fill="#00ff00"/><rect x="457" y="398" width="5" height="4" fill="#00ff00"/><rect x="468" y="395" width="5" height="4" fill="#00ff00"/><rect x="480" y="397" width="5" height="4" fill="#00ff00"/><rect x="491" y="396" width="4" height="4" fill="#00ff00"/><rect x="114" y="366" width="4" height="4" fill="#00ff00"/><rect x="145" y="374" width="4" height="4" fill="#00ff00"/><rect x="247" y="391" width="4" height="4" fill="#00ff00"/><rect x="292" y="401" width="4" height="4" fill="#00ff00"/>
</g>
<g shape-rendering="crispEdges" stroke="#ffff00" stroke-width="1.2" fill="none" stroke-linecap="square">
<path d="M115 325.5L102.4 327.5"/><path d="M102.4 327.5L105.9 323.1"/><path d="M102.4 327.5L107.1 330.5"/><path d="M126 326.5L113.3 328"/><path d="M113.3 328L117.0 323.8"/><path d="M113.3 328L117.9 331.2"/><path d="M137 325L124.6 324.7"/><path d="M124.6 324.7L128.9 321.1"/><path d="M124.6 324.7L128.7 328.5"/><path d="M146 327L134 326"/><path d="M134 326L138.5 322.6"/><path d="M134 326L137.8 330.1"/><path d="M148 327L136 326"/><path d="M136 326L140.5 322.6"/><path d="M136 326L139.8 330.1"/><path d="M159.5 328.4L148 328"/><path d="M148 328L152.3 324.4"/><path d="M148 328L152.0 331.9"/><path d="M171.5 325.2L159.2 326.6"/><path d="M159.2 326.6L162.9 322.4"/><path d="M159.2 326.6L163.8 329.9"/><path d="M183 324.5L170.5 322.3"/><path d="M170.5 322.3L175.2 319.3"/><path d="M170.5 322.3L173.9 326.7"/><path d="M193.5 322.8L181.2 321.9"/><path d="M181.2 321.9L185.6 318.5"/><path d="M181.2 321.9L185.1 325.9"/><path d="M204.5 323L192.5 322.8"/><path d="M192.5 322.8L196.7 319.1"/><path d="M192.5 322.8L196.6 326.6"/><path d="M214.5 323.5L202.3 323"/><path d="M202.3 323L206.6 319.4"/><path d="M202.3 323L206.3 326.9"/><path d="M226 323.5L213 322.3"/><path d="M213 322.3L217.5 319.0"/><path d="M213 322.3L216.8 326.4"/><path d="M227 323.6L214 322.6"/><path d="M214 322.6L218.4 319.2"/><path d="M214 322.6L217.9 326.7"/><path d="M237 323.5L224.8 321.9"/><path d="M224.8 321.9L229.4 318.7"/><path d="M224.8 321.9L228.4 326.2"/><path d="M248 323L235.6 322.8"/><path d="M235.6 322.8L239.8 319.1"/><path d="M235.6 322.8L239.7 326.6"/><path d="M249 323.4L236.4 322.6"/><path d="M236.4 322.6L240.8 319.1"/><path d="M236.4 322.6L240.3 326.6"/><path d="M259 322.5L246.4 322.8"/><path d="M246.4 322.8L250.5 319.0"/><path d="M246.4 322.8L250.6 326.4"/><path d="M270.5 321.5L258 320.5"/><path d="M258 320.5L262.4 317.1"/><path d="M258 320.5L261.8 324.6"/><path d="M282 322L269.4 321.4"/><path d="M269.4 321.4L273.7 317.9"/><path d="M269.4 321.4L273.4 325.3"/><path d="M293 321.5L280 321.4"/><path d="M280 321.4L284.2 317.7"/><path d="M280 321.4L284.1 325.2"/><path d="M294 322L281 321.8"/><path d="M281 321.8L285.2 318.1"/><path d="M281 321.8L285.1 325.6"/><path d="M303.5 319.5L291 319.5"/><path d="M291 319.5L295.2 315.8"/><path d="M291 319.5L295.2 323.2"/><path d="M316 320L304 320"/><path d="M304 320L308.2 316.3"/><path d="M304 320L308.2 323.7"/><path d="M317 320.4L305 319.6"/><path d="M305 319.6L309.4 316.1"/><path d="M305 319.6L308.9 323.6"/><path d="M326.5 320.5L314.4 320"/><path d="M314.4 320L318.7 316.4"/><path d="M314.4 320L318.4 323.9"/><path d="M327.5 320.5L315.6 320"/><path d="M315.6 320L319.9 316.4"/><path d="M315.6 320L319.6 323.9"/><path d="M337 320.5L325 320"/><path d="M325 320L329.3 316.4"/><path d="M325 320L329.0 323.9"/><path d="M348.5 321L336.9 320.5"/><path d="M336.9 320.5L341.2 316.9"/><path d="M336.9 320.5L340.9 324.4"/><path d="M355 322L342.5 321.6"/><path d="M342.5 321.6L346.8 318.0"/><path d="M342.5 321.6L346.5 325.5"/><path d="M357 321.5L345 321"/><path d="M345 321L349.3 317.4"/><path d="M345 321L349.0 324.9"/><path d="M359 322.2L347.2 321.7"/><path d="M347.2 321.7L351.5 318.1"/><path d="M347.2 321.7L351.2 325.6"/><path d="M370.5 322.9L358.4 324.2"/><path d="M358.4 324.2L362.1 320.0"/><path d="M358.4 324.2L362.9 327.5"/><path d="M381 324.8L368.7 325.2"/><path d="M368.7 325.2L372.7 321.3"/><path d="M368.7 325.2L373.0 328.8"/><path d="M382 325L369.5 325.4"/><path d="M369.5 325.4L373.5 321.5"/><path d="M369.5 325.4L373.8 329.0"/><path d="M393 325.2L380.5 326.6"/><path d="M380.5 326.6L384.2 322.4"/><path d="M380.5 326.6L385.1 329.9"/><path d="M404 325.2L390.8 326.1"/><path d="M390.8 326.1L394.7 322.1"/><path d="M390.8 326.1L395.2 329.6"/><path d="M414.5 325.6L402 326.6"/><path d="M402 326.6L405.8 322.5"/><path d="M402 326.6L406.4 330.0"/><path d="M420.5 326L408.1 327"/><path d="M408.1 327L411.9 322.9"/><path d="M408.1 327L412.5 330.4"/><path d="M426.5 326L414.7 327"/><path d="M414.7 327L418.5 322.9"/><path d="M414.7 327L419.2 330.4"/><path d="M437.5 326.4L425 327"/><path d="M425 327L429.0 323.1"/><path d="M425 327L429.3 330.5"/><path d="M447.5 325.6L434.8 326.6"/><path d="M434.8 326.6L438.7 322.5"/><path d="M434.8 326.6L439.2 330.0"/><path d="M459 325.5L446 325.6"/><path d="M446 325.6L450.1 321.8"/><path d="M446 325.6L450.2 329.3"/><path d="M470 325.3L457.2 326.1"/><path d="M457.2 326.1L461.1 322.1"/><path d="M457.2 326.1L461.6 329.6"/><path d="M482 326.6L469.2 328.9"/><path d="M469.2 328.9L472.6 324.5"/><path d="M469.2 328.9L474.0 331.9"/><g stroke-width="1"><path d="M362.6 255.2L358.6 266.2"/><path d="M358.6 266.2L356.5 261.0"/><path d="M358.6 266.2L363.5 263.6"/><path d="M492.4 326.2L482.2 331.4M482.2 331.4L483 327M482.2 331.4L486.6 334.4"/></g>
</g>
<g shape-rendering="crispEdges">
<rect x="69" y="39" width="471" height="3" fill="#ff0000"/><rect x="69" y="427" width="471" height="3" fill="#ff0000"/><rect x="69" y="39" width="3" height="391" fill="#ff0000"/><rect x="537" y="39" width="3" height="391" fill="#ff0000"/><rect x="72" y="138" width="473" height="1" fill="#ff0000"/><rect x="72" y="235" width="473" height="1" fill="#ff0000"/><rect x="72" y="332" width="473" height="1" fill="#ff0000"/><rect x="534" y="58" width="11" height="1" fill="#ff0000"/><rect x="534" y="74" width="11" height="1" fill="#ff0000"/><rect x="534" y="90" width="11" height="1" fill="#ff0000"/><rect x="534" y="106" width="11" height="1" fill="#ff0000"/><rect x="534" y="122" width="11" height="1" fill="#ff0000"/><rect x="534" y="163" width="11" height="1" fill="#ff0000"/><rect x="534" y="187" width="11" height="1" fill="#ff0000"/><rect x="534" y="211" width="11" height="1" fill="#ff0000"/><rect x="534" y="249" width="11" height="1" fill="#ff0000"/><rect x="534" y="263" width="11" height="1" fill="#ff0000"/><rect x="534" y="277" width="11" height="1" fill="#ff0000"/><rect x="534" y="291" width="11" height="1" fill="#ff0000"/><rect x="534" y="305" width="11" height="1" fill="#ff0000"/><rect x="534" y="319" width="11" height="1" fill="#ff0000"/><rect x="534" y="349" width="11" height="1" fill="#ff0000"/><rect x="534" y="365" width="11" height="1" fill="#ff0000"/><rect x="534" y="381" width="11" height="1" fill="#ff0000"/><rect x="534" y="397" width="11" height="1" fill="#ff0000"/><rect x="534" y="413" width="11" height="1" fill="#ff0000"/><rect x="537" y="429" width="8" height="1" fill="#ff0000"/>
</g>
<g style="will-change:opacity" opacity="0.999">
<text x="84.40 92.40 100.40 108.40" y="23" font-size="13.66" fill="#ffff00">9116</text>
<text x="268.40 276.40 281.80 292.40 300.40 308.40" y="23" font-size="13.66" fill="#ffff00">82.46S</text>
<text x="340.40 348.40 353.80 364.40 372.40 380.40" y="23" font-size="13.66" fill="#ffff00">13.03W</text>
<text x="404.40 412.40 420.40 428.40 436.40" y="23" font-size="13.66" fill="#ffff00">1968M</text>
<text x="68.40 76.40 84.40 92.40 100.40 108.40 116.40 124.40 132.40 140.40 148.40 156.40 164.40 172.40 180.40 188.40 196.40 204.40 212.40 220.40 228.40 236.40 244.40 252.40 260.40 268.40 276.40 284.40 292.40 300.40 308.40 316.40 324.40 332.40 340.40 348.40 356.40 364.40 372.40 380.40 388.40 396.40 404.40 412.40 420.40" y="36" font-size="13.66" fill="#ffff00">07 Apr 2015/120000UTC - 10 Apr 2015/000000UTC</text>
<text x="60.40 68.40" y="448" font-size="13.66" fill="#ffff00">06</text>
<text x="99.40 107.40" y="448" font-size="13.66" fill="#ffff00">12</text>
<text x="138.40 146.40" y="448" font-size="13.66" fill="#ffff00">18</text>
<text x="177.40 185.40" y="448" font-size="13.66" fill="#ffff00">00</text>
<text x="216.40 224.40" y="448" font-size="13.66" fill="#ffff00">06</text>
<text x="256.40 264.40" y="448" font-size="13.66" fill="#ffff00">12</text>
<text x="295.40 303.40" y="448" font-size="13.66" fill="#ffff00">18</text>
<text x="334.40 342.40" y="448" font-size="13.66" fill="#ffff00">00</text>
<text x="373.40 381.40" y="448" font-size="13.66" fill="#ffff00">06</text>
<text x="412.40 420.40" y="448" font-size="13.66" fill="#ffff00">12</text>
<text x="452.40 460.40" y="448" font-size="13.66" fill="#ffff00">18</text>
<text x="491.40 499.40" y="448" font-size="13.66" fill="#ffff00">00</text>
<text x="530.40 538.40" y="448" font-size="13.66" fill="#ffff00">06</text>
<text x="161.40 169.40 177.40 185.40 193.40 201.40" y="461" font-size="13.66" fill="#ffff00">08 Apr</text>
<text x="318.40 326.40 334.40 342.40 350.40 358.40" y="461" font-size="13.66" fill="#ffff00">09 Apr</text>
<text x="475.40 483.40 491.40 499.40 507.40 515.40" y="461" font-size="13.66" fill="#ffff00">10 Apr</text>
<text x="15.40" y="479" font-size="13.66" fill="#ffff00">2</text>
<text x="565.30 569.90 577.30" y="62" font-size="10.6" fill="#ff0000">0.0</text>
<text x="553.30 559.30 565.30 569.90 577.30" y="78" font-size="10.6" fill="#ff0000">-10.0</text>
<text x="553.30 559.30 565.30 569.90 577.30" y="94" font-size="10.6" fill="#ff0000">-20.0</text>
<text x="553.30 559.30 565.30 569.90 577.30" y="110" font-size="10.6" fill="#ff0000">-30.0</text>
<text x="553.30 559.30 565.30 569.90 577.30" y="126" font-size="10.6" fill="#ff0000">-40.0</text>
<text x="553.30 559.30 565.30 569.90 577.30" y="142" font-size="10.6" fill="#ff0000">-50.0</text>
<text x="553.30 559.30 565.30 569.90 577.30" y="167" font-size="10.6" fill="#ff0000">750.0</text>
<text x="553.30 559.30 565.30 569.90 577.30" y="191" font-size="10.6" fill="#ff0000">700.0</text>
<text x="553.30 559.30 565.30 569.90 577.30" y="215" font-size="10.6" fill="#ff0000">650.0</text>
<text x="553.30 559.30 565.30 569.90 577.30" y="239" font-size="10.6" fill="#ff0000">600.0</text>
<text x="559.30 565.30 569.90 577.30" y="253" font-size="10.6" fill="#ff0000">60.0</text>
<text x="559.30 565.30 569.90 577.30" y="267" font-size="10.6" fill="#ff0000">50.0</text>
<text x="559.30 565.30 569.90 577.30" y="281" font-size="10.6" fill="#ff0000">40.0</text>
<text x="559.30 565.30 569.90 577.30" y="295" font-size="10.6" fill="#ff0000">30.0</text>
<text x="559.30 565.30 569.90 577.30" y="309" font-size="10.6" fill="#ff0000">20.0</text>
<text x="559.30 565.30 569.90 577.30" y="323" font-size="10.6" fill="#ff0000">10.0</text>
<text x="565.30 569.90 577.30" y="336" font-size="10.6" fill="#ff0000">0.0</text>
<text x="559.30 565.30 569.90 577.30" y="353" font-size="10.6" fill="#ff0000">65.0</text>
<text x="559.30 565.30 569.90 577.30" y="369" font-size="10.6" fill="#ff0000">60.0</text>
<text x="559.30 565.30 569.90 577.30" y="385" font-size="10.6" fill="#ff0000">55.0</text>
<text x="559.30 565.30 569.90 577.30" y="401" font-size="10.6" fill="#ff0000">50.0</text>
<text x="559.30 565.30 569.90 577.30" y="417" font-size="10.6" fill="#ff0000">45.0</text>
<text x="559.30 565.30 569.90 577.30" y="433" font-size="10.6" fill="#ff0000">40.0</text>
<text x="588.30 594.10 599.90 605.70" y="93" font-size="10.6" fill="#ff0000">T(C)</text>
<text x="588.30 594.10 599.90 605.70 611.50 617.30 623.10 628.90" y="190" font-size="10.6" fill="#ff0000">Pre (mb)</text>
<text x="588.30 594.10 599.90 605.70 611.50 617.30 623.10 628.90" y="287" font-size="10.6" fill="#ff0000">SPD(MPS)</text>
<text x="588.30 594.10 599.90 605.70 611.50" y="384" font-size="10.6" fill="#ff0000">RH(%)</text>
</g>
</svg>
</body></html>
